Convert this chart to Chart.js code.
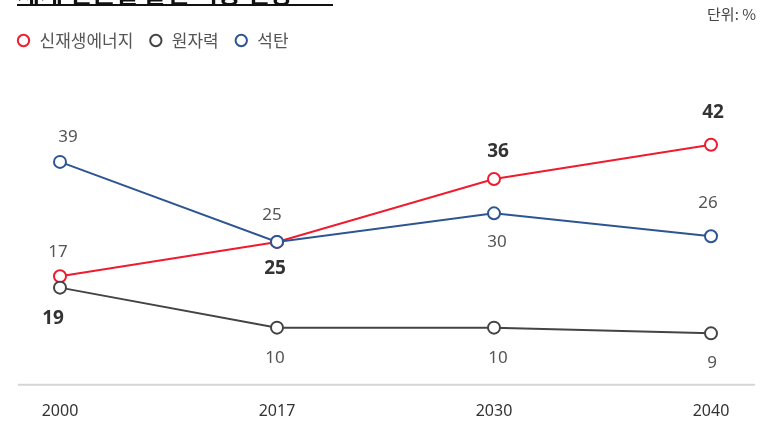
<!DOCTYPE html>
<html>
<head>
<meta charset="utf-8">
<script src="https://cdn.jsdelivr.net/npm/chart.js@4/dist/chart.umd.min.js"></script>
<style>
  html, body { margin: 0; padding: 0; background: #fff; }
  #wrap { width: 773px; height: 423px; position: relative; }
</style>
</head>
<body>
<div id="wrap"><canvas id="chart" width="773" height="423"></canvas></div>
<script>
// chart values
const years = ['2000', '2017', '2030', '2040'];
const renewable = [19, 25, 36, 42];
const nuclear = [17, 10, 10, 9];
const coal = [39, 25, 30, 26];

const titleText = '세계 전원별 발전 비중 전망';
const unitText = '단위: %';

const NUM_FONT = '"Noto Sans", "Open Sans", sans-serif';
const KR_FONT = '"Noto Sans CJK KR", "Noto Sans", sans-serif';

// value labels next to each point; offsets are drawing style only
const valueLabels = {
  id: 'valueLabels',
  afterDatasetsDraw(chart) {
    const ctx = chart.ctx;
    chart.data.datasets.forEach((ds, i) => {
      const meta = chart.getDatasetMeta(i);
      meta.data.forEach((pt, j) => {
        ctx.save();
        ctx.font = (ds.labelBold ? 'bold 19px ' : '17px ') + NUM_FONT;
        ctx.fillStyle = ds.labelBold ? '#333' : '#555';
        ctx.textAlign = 'center';
        ctx.textBaseline = 'middle';
        ctx.fillText(String(ds.data[j]), pt.x + ds.labelDx[j], pt.y + ds.labelDy[j]);
        ctx.restore();
      });
    });
  }
};

// cut-off title, unit note and the base line
const decorations = {
  id: 'decorations',
  beforeDatasetsDraw(chart) {
    const ctx = chart.ctx;
    const area = chart.chartArea;
    const y0 = chart.scales.y.getPixelForValue(0);
    ctx.save();
    ctx.strokeStyle = '#d6d6d6';
    ctx.lineWidth = 2;
    ctx.beginPath();
    ctx.moveTo(area.left - 42, y0);
    ctx.lineTo(area.right + 44, y0);
    ctx.stroke();
    ctx.restore();
  },
  afterDraw(chart) {
    const ctx = chart.ctx;
    ctx.save();
    ctx.font = 'bold 25px ' + KR_FONT;
    ctx.fillStyle = '#111';
    ctx.textBaseline = 'alphabetic';
    ctx.fillText(titleText, 17, 3);
    ctx.fillRect(17, 4, 316, 2);
    ctx.font = '15px ' + KR_FONT;
    ctx.fillStyle = '#444';
    ctx.textAlign = 'right';
    ctx.textBaseline = 'middle';
    ctx.fillText(unitText, 756, 14);
    ctx.restore();
  }
};

new Chart(document.getElementById('chart'), {
  type: 'line',
  data: {
    labels: years,
    datasets: [
      {
        label: '신재생에너지',
        data: renewable,
        borderColor: '#ee1c2e',
        backgroundColor: '#fff',
        order: 2,
        labelBold: true,
        labelDx: [-7, -2, 4, 2],
        labelDy: [42, 27, -27, -32]
      },
      {
        label: '원자력',
        data: nuclear,
        borderColor: '#444444',
        backgroundColor: '#fff',
        order: 1,
        labelBold: false,
        labelDx: [-2, -2, 4, 1],
        labelDy: [-35, 31, 31, 30]
      },
      {
        label: '석탄',
        data: coal,
        borderColor: '#2d5591',
        backgroundColor: '#fff',
        order: 0,
        labelBold: false,
        labelDx: [8, -5, 3, -3],
        labelDy: [-25, -27, 29, -33]
      }
    ]
  },
  options: {
    responsive: false,
    animation: false,
    layout: { padding: { top: 17, left: 1, right: 62, bottom: -15 } },
    elements: {
      line: { borderWidth: 2, tension: 0 },
      point: { radius: 6, borderWidth: 2, hoverRadius: 6 }
    },
    scales: {
      x: {
        offset: false,
        grid: { display: false, drawTicks: false },
        border: { display: false },
        ticks: {
          padding: 17,
          color: '#333',
          font: { family: NUM_FONT, size: 16 }
        }
      },
      y: {
        min: 0,
        max: 57,
        grid: { display: false, drawTicks: false },
        border: { display: false },
        ticks: { display: false },
        afterFit(scale) { scale.width = 59; }
      }
    },
    plugins: {
      legend: {
        position: 'top',
        align: 'start',
        labels: {
          usePointStyle: true,
          boxWidth: 15,
          boxHeight: 8,
          padding: 15,
          color: '#555',
          font: { family: KR_FONT, size: 17 },
          sort: (a, b) => a.datasetIndex - b.datasetIndex
        }
      },
      tooltip: { enabled: false }
    }
  },
  plugins: [decorations, valueLabels]
});
</script>
</body>
</html>
